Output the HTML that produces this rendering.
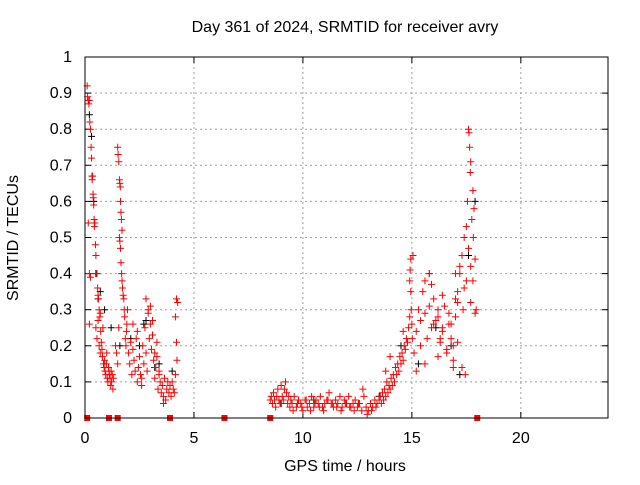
<!DOCTYPE html>
<html><head><meta charset="utf-8"><style>
body{margin:0;background:#fff;}
svg text{font-family:"Liberation Sans",sans-serif;font-size:16px;fill:#000;}
</style></head><body>
<svg id="c" width="640" height="480">
<text x="345" y="32" text-anchor="middle">Day 361 of 2024, SRMTID for receiver avry</text>
<text x="345" y="471" text-anchor="middle">GPS time / hours</text>
<text transform="translate(18,238) rotate(-90)" text-anchor="middle">SRMTID / TECUs</text>
<g id="grid"></g><g id="ticks"></g><g id="marks"></g>
<rect x="85" y="57" width="523" height="361" fill="none" stroke="#000" stroke-width="1"/>
</svg>
<script>
const xTicks=[0,5,10,15,20];
const yTicks=[0,0.1,0.2,0.3,0.4,0.5,0.6,0.7,0.8,0.9,1];
const yTickLabels=["0","0.1","0.2","0.3","0.4","0.5","0.6","0.7","0.8","0.9","1"];
const redT=[
0.10,0.12,0.15,0.18,0.20,0.22,0.25,0.28,0.30,0.32,
0.33,0.35,0.37,0.38,0.40,0.42,0.43,0.45,0.48,0.50,
0.15,0.20,0.25,0.55,0.58,0.60,0.62,0.65,0.68,0.70,
0.50,0.55,0.60,0.65,0.70,0.72,0.75,0.78,0.80,0.82,
0.85,0.88,0.90,0.92,0.95,0.98,1.00,1.02,1.05,1.08,
1.10,1.12,1.15,1.18,1.20,1.22,1.25,1.28,1.30,0.20,
1.50,1.52,1.55,1.58,1.60,1.62,1.63,1.65,1.67,1.70,
1.58,1.60,1.63,1.65,1.68,1.70,1.72,1.75,1.78,1.80,
1.40,1.45,1.50,1.55,1.82,1.85,1.88,1.90,1.92,1.95,
2.00,2.05,2.10,2.15,2.20,2.25,2.30,2.35,2.40,2.45,
2.50,2.55,2.60,2.65,2.70,2.75,2.80,2.85,2.90,2.95,
3.00,3.05,3.10,3.15,3.20,3.25,3.30,3.35,3.40,3.45,
3.50,3.55,3.60,3.65,3.70,3.75,3.80,3.85,3.90,3.95,
2.20,2.40,2.60,2.80,3.00,3.20,3.40,3.60,4.00,4.05,
4.10,4.15,4.20,4.25,4.20,4.22,4.15,2.90,3.10,3.30,
8.5,8.55,8.6,8.65,8.7,8.75,8.8,8.85,8.9,8.95,
9.0,9.05,9.1,9.15,9.2,9.25,9.3,9.35,9.4,9.45,
9.5,9.6,9.7,9.8,9.9,10.0,10.1,10.2,10.3,10.4,
10.5,10.6,10.7,10.8,10.9,11.0,11.1,11.2,11.3,11.4,
11.5,11.6,11.7,11.8,11.9,12.0,12.1,12.2,12.3,12.4,
12.5,12.6,12.7,12.8,12.9,13.0,13.1,13.2,13.3,13.4,
9.55,9.75,9.95,10.15,10.35,10.55,10.75,10.95,11.15,11.35,
11.55,11.75,11.95,12.15,12.35,12.55,12.75,12.95,13.15,13.35,
13.5,13.55,13.6,13.65,13.7,13.75,13.8,13.85,13.9,13.95,
14.0,14.05,14.1,14.15,14.2,14.25,14.3,14.35,14.4,14.45,
14.5,14.55,14.6,14.65,14.7,14.75,14.8,14.85,14.9,14.95,
14.9,14.92,14.95,14.97,15.0,15.02,15.05,13.8,14.0,14.6,
15.1,15.2,15.3,15.4,15.5,15.6,15.7,15.8,15.9,16.0,
16.1,16.2,16.3,16.4,16.5,16.6,16.7,16.8,16.9,17.0,
17.1,17.2,17.3,17.4,17.5,17.6,17.7,17.8,17.9,17.95,
15.2,15.4,15.6,15.8,16.0,16.2,16.4,16.6,16.8,17.0,
15.6,15.9,16.3,16.7,16.9,17.1,17.3,17.5,17.7,17.9,
17.6,17.62,17.65,17.7,17.68,17.55,17.8,17.85,17.75,17.82,
17.0,17.2,17.4,17.1,16.4,16.2,15.8,17.35,16.9,17.45];
const redV=[
0.92,0.89,0.88,0.87,0.88,0.82,0.80,0.75,0.72,0.67,
0.66,0.67,0.62,0.61,0.59,0.55,0.53,0.54,0.48,0.45,
0.54,0.40,0.39,0.40,0.36,0.34,0.33,0.30,0.28,0.29,
0.25,0.22,0.27,0.20,0.18,0.24,0.21,0.19,0.17,0.25,
0.15,0.14,0.16,0.13,0.12,0.15,0.18,0.11,0.10,0.14,
0.13,0.12,0.11,0.09,0.13,0.10,0.12,0.08,0.11,0.26,
0.75,0.73,0.71,0.66,0.65,0.64,0.60,0.57,0.55,0.52,
0.50,0.49,0.47,0.43,0.40,0.38,0.36,0.34,0.33,0.30,
0.20,0.18,0.15,0.25,0.28,0.22,0.20,0.24,0.26,0.30,
0.18,0.15,0.21,0.12,0.19,0.16,0.13,0.22,0.10,0.14,
0.17,0.12,0.09,0.20,0.15,0.25,0.18,0.13,0.30,0.22,
0.26,0.19,0.23,0.16,0.11,0.14,0.21,0.08,0.12,0.10,
0.07,0.09,0.06,0.11,0.05,0.08,0.10,0.07,0.09,0.06,
0.26,0.24,0.11,0.33,0.31,0.18,0.13,0.04,0.10,0.08,
0.07,0.28,0.33,0.32,0.21,0.16,0.12,0.29,0.27,0.17,
0.05,0.06,0.04,0.07,0.05,0.03,0.06,0.08,0.05,0.04,
0.09,0.06,0.05,0.08,0.10,0.07,0.04,0.06,0.03,0.05,
0.04,0.06,0.03,0.05,0.04,0.02,0.05,0.03,0.04,0.06,
0.03,0.05,0.04,0.06,0.03,0.04,0.05,0.07,0.04,0.03,
0.05,0.04,0.06,0.03,0.05,0.04,0.06,0.03,0.04,0.05,
0.03,0.04,0.02,0.06,0.03,0.02,0.04,0.03,0.05,0.04,
0.02,0.04,0.03,0.05,0.02,0.04,0.03,0.02,0.05,0.04,
0.03,0.02,0.04,0.03,0.02,0.04,0.08,0.01,0.02,0.03,
0.05,0.06,0.04,0.07,0.05,0.08,0.06,0.10,0.07,0.09,
0.08,0.11,0.09,0.12,0.10,0.14,0.12,0.15,0.13,0.17,
0.15,0.18,0.16,0.20,0.19,0.22,0.21,0.25,0.28,0.44,
0.38,0.41,0.35,0.30,0.26,0.22,0.45,0.13,0.17,0.24,
0.18,0.24,0.30,0.27,0.35,0.29,0.22,0.31,0.37,0.33,
0.27,0.30,0.21,0.25,0.31,0.19,0.26,0.22,0.20,0.28,
0.35,0.40,0.45,0.50,0.53,0.47,0.42,0.38,0.44,0.30,
0.13,0.20,0.38,0.40,0.26,0.28,0.34,0.18,0.26,0.33,
0.15,0.25,0.22,0.29,0.16,0.21,0.14,0.38,0.32,0.29,
0.80,0.79,0.75,0.71,0.68,0.60,0.63,0.58,0.55,0.50,
0.40,0.42,0.36,0.32,0.24,0.17,0.40,0.30,0.14,0.12];
const blackT=[0.2,0.3,0.5,0.7,0.9,1.2,1.6,2.1,2.5,2.8,3.1,3.4,4.0,9.0,10.5,12.0,13.5,14.5,15.3,16.1,16.8,17.2,17.6,17.9,2.7,3.2,0.4,0.6];
const blackV=[0.84,0.78,0.4,0.35,0.3,0.25,0.2,0.22,0.2,0.27,0.23,0.15,0.13,0.04,0.05,0.04,0.06,0.2,0.15,0.25,0.2,0.12,0.45,0.6,0.26,0.14,0.6,0.33];
const zeroT=[0.1,1.1,1.5,3.9,6.4,8.5,18.0];
const X=t=>85+t*(523/24), Y=v=>418-v*361;
const ns="http://www.w3.org/2000/svg";
const grid=document.getElementById('grid'),ticks=document.getElementById('ticks'),marks=document.getElementById('marks');
function mk(tag,at,p){const e=document.createElementNS(ns,tag);for(const k in at)e.setAttribute(k,at[k]);p.appendChild(e);return e;}
xTicks.forEach(t=>{const x=X(t);
 if(t>0){const g=mk('line',{x1:x,x2:x,y1:57,y2:418,stroke:'#a0a0a0','stroke-dasharray':'2,3'},grid);
 
 }
 mk('line',{x1:x,x2:x,y1:418,y2:412,stroke:'#000'},ticks);mk('line',{x1:x,x2:x,y1:57,y2:63,stroke:'#000'},ticks);
 const l=mk('text',{x:x,y:443,'text-anchor':'middle'},ticks);l.textContent=t;
 
 });
yTicks.forEach((v,i)=>{const y=Y(v);
 if(v>0&&v<1){const g=mk('line',{x1:85,x2:608,y1:y,y2:y,stroke:'#a0a0a0','stroke-dasharray':'2,3'},grid);
 
 }
 mk('line',{x1:85,x2:91,y1:y,y2:y,stroke:'#000'},ticks);mk('line',{x1:608,x2:602,y1:y,y2:y,stroke:'#000'},ticks);
 const l=mk('text',{x:72,y:y+5,'text-anchor':'end'},ticks);l.textContent=yTickLabels[i];
 
 });
function cross(t,v,col,name){const x=X(t),y=Y(v);
 const p=mk('path',{d:`M${x-3.5},${y}h7M${x},${y-3.5}v7`,stroke:col,'stroke-width':1,fill:'none'},marks);
 
 }
blackT.forEach((t,i)=>cross(t,blackV[i],'#000','black-point'));
redT.forEach((t,i)=>cross(t,redV[i],'#f00','red-point'));
zeroT.forEach(t=>{const r=mk('rect',{x:X(t)-3,y:415,width:6,height:6,fill:'#f00'},marks);
 
 });
</script>
</body></html>
